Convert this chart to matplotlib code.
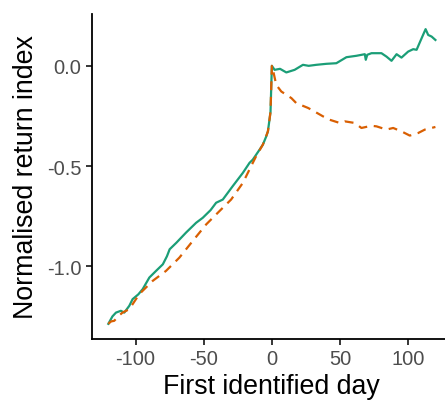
"""
Normalised return index around the first identified day.
"""

import matplotlib.pyplot as plt

# Values.
green_day = [
    -120, -117, -114.4, -110.8, -108.3, -104.6, -102.2, -98, -94.8, -89.9,
    -85, -80, -77, -75, -70, -63, -55.6, -50.7, -45, -40.9, -36, -28.7,
    -21.3, -16.4, -14, -11.5, -9, -6.6, -4, -2.9, -1, 0,
    2, 6, 10.6, 16.7, 22.8, 27, 32.6, 40, 47.3, 54.7, 62, 68.2, 68.9, 70,
    73.1, 80.4, 84.1, 87.8, 91.5, 95.1, 100, 103.7, 106.2, 109.9, 112.8,
    114.7, 117.2, 120,
]
green_index = [
    -1.287, -1.25, -1.231, -1.222, -1.231, -1.197, -1.164, -1.14, -1.114,
    -1.056, -1.023, -0.99, -0.95, -0.915, -0.882, -0.832, -0.783, -0.758,
    -0.72, -0.683, -0.667, -0.600, -0.534, -0.484, -0.468, -0.443, -0.418,
    -0.393, -0.35, -0.327, -0.23, 0.0,
    -0.02, -0.015, -0.033, -0.02, 0.005, 0.0, 0.005, 0.01, 0.013, 0.043,
    0.05, 0.058, 0.03, 0.055, 0.063, 0.063, 0.046, 0.025, 0.058, 0.041,
    0.071, 0.083, 0.08, 0.138, 0.183, 0.154, 0.146, 0.129,
]

orange_day = [
    -120, -118, -115.7, -112, -109.6, -104.6, -97.3, -87.5, -77.7, -67.9,
    -58.1, -48.2, -38.5, -29.9, -21.3, -14, -11.5, -6.6, -2.9, -1, 0,
    0.8, 3.2, 6.9, 14.3, 17.9, 26.5, 29, 37.5, 42.4, 49.8, 53.5, 60.8,
    65.7, 73.1, 76.8, 84.1, 89, 95.1, 101.2, 107.4, 112.3, 120,
]
orange_index = [
    -1.287, -1.275, -1.272, -1.245, -1.231, -1.214, -1.139, -1.073, -1.023,
    -0.957, -0.874, -0.791, -0.725, -0.667, -0.584, -0.484, -0.45, -0.393,
    -0.327, -0.23, 0.0,
    -0.02, -0.095, -0.128, -0.161, -0.186, -0.21, -0.219, -0.252, -0.269,
    -0.285, -0.277, -0.285, -0.31, -0.299, -0.302, -0.318, -0.31, -0.327,
    -0.348, -0.335, -0.318, -0.305,
]

x_ticks = [-100, -50, 0, 50, 100]
y_ticks = [0.0, -0.5, -1.0]

plt.rcParams["font.family"] = ["Liberation Sans", "DejaVu Sans"]

fig = plt.figure(figsize=(4.45, 4.06), dpi=100)
# axis runs a bit past the right edge, as in the reference
ax = fig.add_axes([0.2067, 0.1626, 0.8085, 0.8005])

ax.plot(green_day, green_index, color="#1B9E77", lw=1.6, solid_joinstyle="round")
ax.plot(orange_day, orange_index, color="#D95F02", lw=1.6, ls=(0, (4, 3)))

ax.set_xlim(-132, 132)
ax.set_ylim(-1.3626, 0.2586)
ax.set_xticks(x_ticks)
ax.set_yticks(y_ticks)
ax.set_xticklabels([f"{t}" for t in x_ticks])
ax.set_yticklabels([f"{t:.1f}" for t in y_ticks])

for side in ["top", "right"]:
    ax.spines[side].set_visible(False)
for side in ["left", "bottom"]:
    ax.spines[side].set_linewidth(1.3)
ax.tick_params(length=4, width=1.1, colors="black", labelcolor="#4D4D4D",
               labelsize=14.5, pad=3.5)

ax.set_xlabel("First identified day", fontsize=19.3, labelpad=3)
ax.set_ylabel("Normalised return index", fontsize=19.3, labelpad=5.5)

fig.savefig("out.png", dpi=100)
